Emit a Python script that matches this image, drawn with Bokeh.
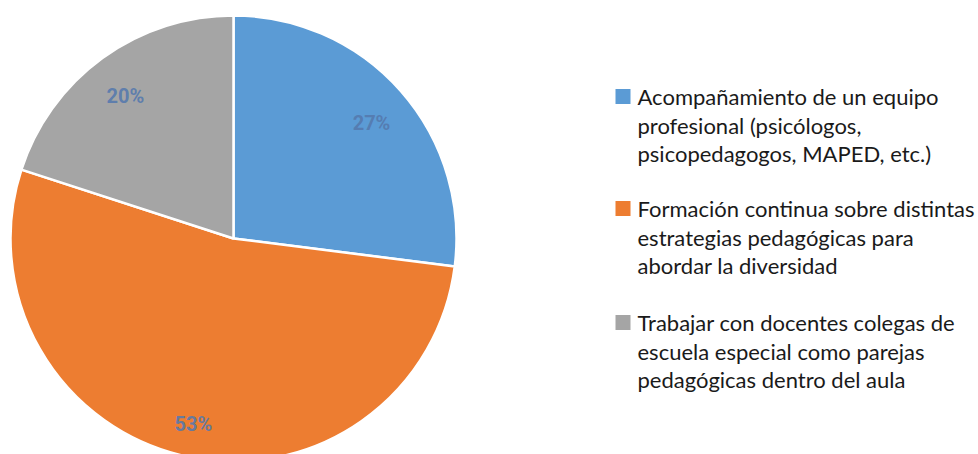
import math
from bokeh.plotting import figure
from bokeh.models import ColumnDataSource, Range1d
from bokeh.core.properties import value
from bokeh.embed import file_html
from bokeh.resources import INLINE

# ---- data ----
categories = [
    "Acompañamiento de un equipo profesional (psicólogos, psicopedagogos, MAPED, etc.)",
    "Formación continua sobre distintas estrategias pedagógicas para abordar la diversidad",
    "Trabajar con docentes colegas de escuela especial como parejas pedagógicas dentro del aula",
]
legend_lines = [
    ["Acompañamiento de un equipo", "profesional (psicólogos,", "psicopedagogos, MAPED, etc.)"],
    ["Formación continua sobre distintas", "estrategias pedagógicas para", "abordar la diversidad"],
    ["Trabajar con docentes colegas de", "escuela especial como parejas", "pedagógicas dentro del aula"],
]
percent = [27, 53, 20]
colors = ["#5B9BD5", "#ED7D31", "#A5A5A5"]

W, H = 978, 454
CX, CY, R = 233, 454 - 238, 223
LABEL_R = 184

p = figure(width=W, height=H, output_backend="svg", toolbar_location=None,
           x_range=Range1d(0, W), y_range=Range1d(0, H), min_border=0)
p.axis.visible = False
p.grid.visible = False
p.outline_line_color = None
p.background_fill_color = "white"
p.border_fill_color = "white"

# wedges: start at 12 o'clock, go clockwise
total = sum(percent)
starts, ends, lx, ly, ltxt = [], [], [], [], []
a = math.pi / 2
for v in percent:
    sweep = 2 * math.pi * v / total
    end = a
    start = a - sweep
    starts.append(start)
    ends.append(end)
    mid = (start + end) / 2
    lx.append(CX + LABEL_R * math.cos(mid))
    ly.append(CY + LABEL_R * math.sin(mid))
    ltxt.append(f"{v}%")
    a = start

src = ColumnDataSource(dict(x=[CX] * 3, y=[CY] * 3, start=starts, end=ends,
                            color=colors, cat=categories))
p.wedge(x="x", y="y", radius=R, radius_units="screen", start_angle="start",
        end_angle="end", direction="anticlock", fill_color="color",
        line_color="white", line_width=2.5, source=src)

p.text(x=lx, y=ly, text=ltxt, text_align="center", text_baseline="middle",
       y_offset=6,
       text_font=value("Roboto"), text_font_style="bold", text_font_size="20px",
       text_color="#5579AD", text_alpha=0.9)

# legend
SQ_X, TXT_X = 622.5, 637
item_y = [96, 208, 322]
LINE_H = 28.5
sq_x, sq_y, tx, ty, tt = [], [], [], [], []
for i, lines in enumerate(legend_lines):
    sq_x.append(SQ_X)
    sq_y.append(H - item_y[i])
    for j, line in enumerate(lines):
        tx.append(TXT_X)
        ty.append(H - (item_y[i] + j * LINE_H))
        tt.append(line)
p.rect(x=sq_x, y=sq_y, width=15, height=15, width_units="screen",
       height_units="screen", fill_color=colors, line_color=None)
p.text(x=tx, y=ty, text=tt, text_align="left", text_baseline="middle",
       text_font=value("Lato"), text_font_size="22px", text_color="#1a1a1a")

open("out.html", "w").write(file_html(p, INLINE))
